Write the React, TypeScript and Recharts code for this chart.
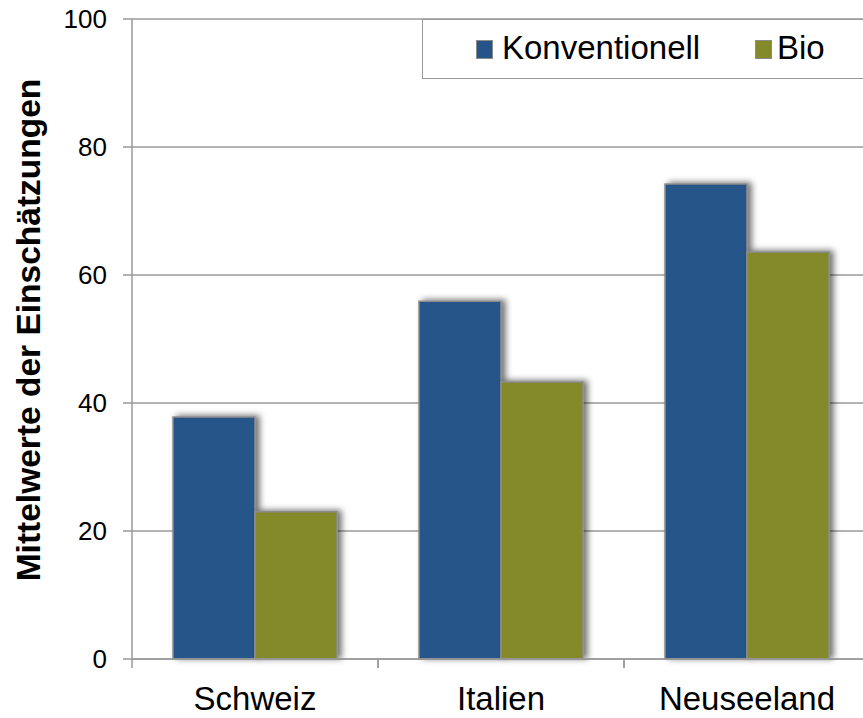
import React from "react";
import { BarChart, Bar, XAxis, YAxis, CartesianGrid } from "recharts";

const countries = ["Schweiz", "Italien", "Neuseeland"];
const konventionell = [37.8, 55.9, 74.2];
const bio = [23.0, 43.3, 63.6];
const yTicks = [0, 20, 40, 60, 80, 100];

const data = countries.map((country, i) => ({
  country,
  Konventionell: konventionell[i],
  Bio: bio[i],
}));

const FONT = "Arial, 'Liberation Sans', sans-serif";
const BLUE = "#26548a";
const OLIVE = "#84892a";
const GRAY = "#9a9a9a";

const CategoryTick = ({ x, y, payload }: any) => {
  const half = payload && payload.offset ? payload.offset : 123;
  return (
    <g>
      <line x1={x - half} y1={y} x2={x - half} y2={y + 9} stroke={GRAY} strokeWidth={1.5} />
      <line x1={x + half} y1={y} x2={x + half} y2={y + 9} stroke={GRAY} strokeWidth={1.5} />
      <text x={x} y={y + 51} textAnchor="middle" fontSize={33} fontFamily={FONT} fill="#000">
        {payload.value}
      </text>
    </g>
  );
};

// legend drawn as an overlay so it takes no room from the plot
const LegendBox = () => (
  <div
    style={{
      position: "absolute",
      left: 422,
      top: 19,
      width: 460,
      height: 60,
      border: `1.5px solid ${GRAY}`,
      background: "#fff",
      boxSizing: "border-box",
      fontFamily: FONT,
      fontSize: 33,
    }}
  >
    {[
      { name: "Konventionell", color: BLUE, left: 53, textLeft: 79 },
      { name: "Bio", color: OLIVE, left: 332, textLeft: 354 },
    ].map((item) => (
      <React.Fragment key={item.name}>
        <span
          style={{
            position: "absolute",
            left: item.left,
            top: 20,
            width: 15,
            height: 17,
            background: item.color,
            border: "1.5px solid #8c8c8c",
          }}
        />
        <span style={{ position: "absolute", left: item.textLeft, top: 9, lineHeight: "38px" }}>
          {item.name}
        </span>
      </React.Fragment>
    ))}
  </div>
);

export default function App() {
  return (
    <div style={{ width: 863, height: 718, overflow: "hidden", background: "#fff", position: "relative" }}>
      <style>{`body{margin:0}`}</style>
      <BarChart
        width={880}
        height={718}
        data={data}
        margin={{ top: 19, right: 10, bottom: 29, left: 0 }}
        barCategoryGap={41}
        barGap={0}
      >
        <defs>
          <filter id="barShadow" x="-20%" y="-20%" width="150%" height="140%">
            <feDropShadow dx={4} dy={-1} stdDeviation={3} floodColor="#000" floodOpacity={0.55} />
          </filter>
        </defs>
        <CartesianGrid vertical={false} stroke={GRAY} strokeWidth={1.5} />
        <YAxis
          width={132}
          domain={[0, 100]}
          ticks={yTicks}
          tickSize={9}
          tickMargin={16}
          axisLine={{ stroke: GRAY, strokeWidth: 1.5 }}
          tickLine={{ stroke: GRAY, strokeWidth: 1.5 }}
          tick={{ fontSize: 26, fontFamily: FONT, fill: "#000" }}
          label={{
            value: "Mittelwerte der Einschätzungen",
            angle: -90,
            position: "insideLeft",
            offset: 0,
            dx: 28,
            dy: -9,
            style: { fontSize: 33.5, fontWeight: "bold", fontFamily: FONT, fill: "#000", textAnchor: "middle" },
          }}
        />
        <XAxis
          dataKey="country"
          height={30}
          tickLine={false}
          tickSize={0}
          tickMargin={0}
          axisLine={{ stroke: GRAY, strokeWidth: 1.5 }}
          tick={<CategoryTick />}
          interval={0}
        />
        <Bar
          dataKey="Konventionell"
          fill={BLUE}
          stroke="#8c8c8c"
          strokeWidth={1.5}
          filter="url(#barShadow)"
          isAnimationActive={false}
        />
        <Bar
          dataKey="Bio"
          fill={OLIVE}
          stroke="#8c8c8c"
          strokeWidth={1.5}
          filter="url(#barShadow)"
          isAnimationActive={false}
        />
      </BarChart>
      <LegendBox />
    </div>
  );
}
